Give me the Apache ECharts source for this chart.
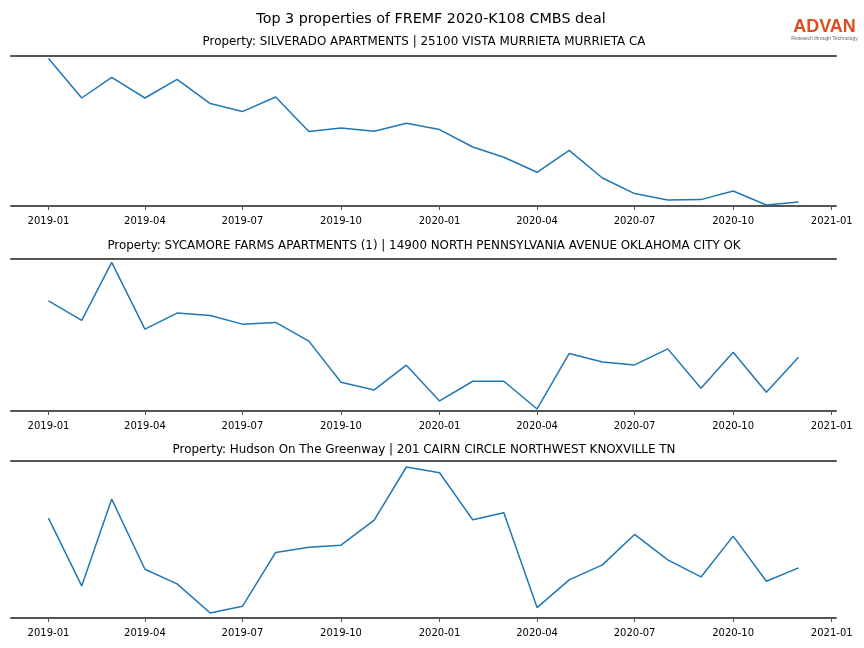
<!DOCTYPE html>
<html>
<head>
<meta charset="utf-8">
<script src="https://cdn.jsdelivr.net/npm/echarts@6/dist/echarts.min.js"></script>
<style>html,body{margin:0;padding:0;background:#fff;}#c{width:864px;height:648px;}</style>
</head>
<body>
<div id="c"></div>
<script>
// Monthly periods
const months = ['2019-01','2019-02','2019-03','2019-04','2019-05','2019-06','2019-07','2019-08','2019-09','2019-10','2019-11','2019-12',
                '2020-01','2020-02','2020-03','2020-04','2020-05','2020-06','2020-07','2020-08','2020-09','2020-10','2020-11','2020-12'];
const tickLabels = ['2019-01','2019-04','2019-07','2019-10','2020-01','2020-04','2020-07','2020-10','2021-01'];

const titles = [
  'Property: SILVERADO APARTMENTS | 25100 VISTA MURRIETA MURRIETA CA',
  'Property: SYCAMORE FARMS APARTMENTS (1) | 14900 NORTH PENNSYLVANIA AVENUE OKLAHOMA CITY OK',
  'Property: Hudson On The Greenway | 201 CAIRN CIRCLE NORTHWEST KNOXVILLE TN'
];
// relative values (no y scale shown in the reference)
const silverado = [147.4,108,128.7,108,126.7,102.4,94.4,109,74.4,78,74.7,82.7,
                   76.4,59,48.7,33.7,55.7,28,12.4,6,6.4,15,1,4];
const sycamore  = [110,90.4,148.4,81.7,97.7,95.4,86.7,88.4,69.7,28.7,21,45.7,
                   10,29.7,29.7,2,57.4,49,46,62,22.7,58.7,18.7,53.7];
const hudson    = [99.7,32,118.7,48.7,34,5,11.7,65.4,70.7,72.7,97.7,150.7,
                   145,98,105,10.4,38,53,83.4,58,41,81.7,36.7,50];
const yMax = [150, 151.7, 156.7];
const seriesData = [silverado, sycamore, hudson];

function toDate(s){ const p = s.split('-'); return Date.UTC(+p[0], +p[1]-1, 1); }
const monthTs = months.map(toDate);
const tickTs = tickLabels.map(toDate);
const DAY = 86400000;
const xMin = monthTs[0] - 35*DAY;
const xMax = monthTs[monthTs.length-1] + 35*DAY;
function fmt(v){ const d = new Date(v); return d.getUTCFullYear() + '-' + String(d.getUTCMonth()+1).padStart(2,'0'); }

const grids = [
  {left:11, right:28, top:56, height:150},
  {left:11, right:28, top:259, height:152},
  {left:11, right:28, top:461, height:157}
];
const subtitleY = [42, 246, 450];
const FONT = '"DejaVu Sans", sans-serif';

const xAxes = [], yAxes = [], series = [];
grids.forEach((g, i) => {
  xAxes.push({
    type:'value', gridIndex:i, min:xMin, max:xMax, position:'bottom',
    axisLine:{show:true, lineStyle:{color:'#555', width:2}},
    axisTick:{show:true, customValues:tickTs, length:4, lineStyle:{color:'#555', width:1}},
    axisLabel:{show:true, customValues:tickTs, formatter:fmt, fontSize:10, fontFamily:FONT, color:'#000', margin:10,
               showMinLabel:true, showMaxLabel:true},
    splitLine:{show:false}
  });
  xAxes.push({
    type:'value', gridIndex:i, min:xMin, max:xMax, position:'top',
    axisLine:{show:true, lineStyle:{color:'#555', width:2}},
    axisTick:{show:false}, axisLabel:{show:false}, splitLine:{show:false}
  });
  yAxes.push({type:'value', gridIndex:i, min:0, max:yMax[i], show:false, splitLine:{show:false}});
  series.push({
    type:'line', xAxisIndex:i*2, yAxisIndex:i, showSymbol:false, symbol:'none',
    lineStyle:{color:'#1f77b4', width:1.5}, itemStyle:{color:'#1f77b4'},
    data: monthTs.map((t, k) => [t, seriesData[i][k]])
  });
});

const graphic = [
  {type:'text', x:431, y:19.5, style:{text:'Top 3 properties of FREMF 2020-K108 CMBS deal', font:'14.3px '+FONT, fill:'#000', textAlign:'center', textVerticalAlign:'middle'}},
  {type:'text', x:824.5, y:27.5, style:{text:'ADVAN', font:'bold 18px "Liberation Sans", sans-serif', fill:'#dc4f22', textAlign:'center', textVerticalAlign:'middle'}},
  {type:'text', x:824.5, y:38.5, style:{text:'Research through Technology', font:'5px "Liberation Sans", sans-serif', fill:'#666', textAlign:'center', textVerticalAlign:'middle'}}
];
titles.forEach((t, i) => {
  graphic.push({type:'text', x:424, y:subtitleY[i], style:{text:t, font:'11.9px '+FONT, fill:'#000', textAlign:'center', textVerticalAlign:'middle'}});
});

const chart = echarts.init(document.getElementById('c'), null, {renderer:'canvas'});
chart.setOption({
  animation:false,
  backgroundColor:'#fff',
  grid: grids,
  xAxis: xAxes,
  yAxis: yAxes,
  series: series,
  graphic: graphic
});
</script>
</body>
</html>
